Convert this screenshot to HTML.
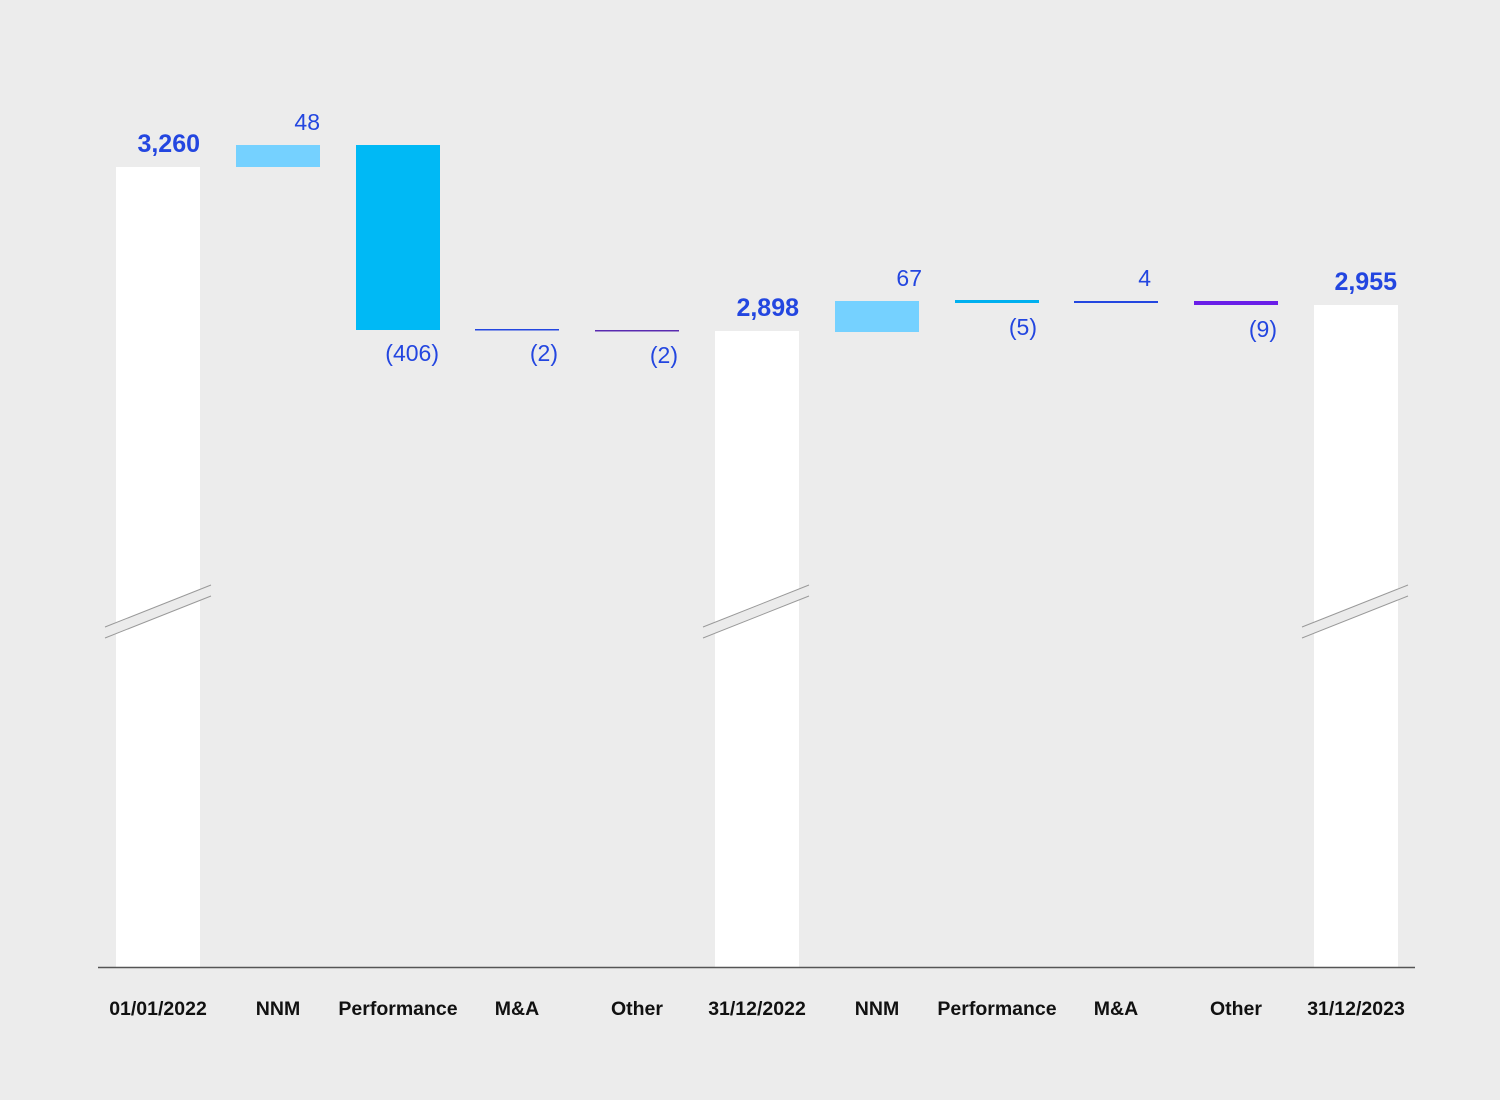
<!DOCTYPE html>
<html><head><style>body{margin:0;background:#ececec}svg{display:block}</style></head>
<body>
<svg width="1500" height="1100" viewBox="0 0 1500 1100" xmlns="http://www.w3.org/2000/svg" font-family="Liberation Sans, sans-serif">
<rect width="1500" height="1100" fill="#ececec"/>
<rect x="116" y="167" width="84" height="800" fill="#fff"/>
<rect x="715" y="331" width="84" height="636" fill="#fff"/>
<rect x="1314" y="305" width="84" height="662" fill="#fff"/>
<rect x="236" y="145" width="84" height="22" fill="#75d1ff"/>
<rect x="356" y="145" width="84" height="185" fill="#00b9f5"/>
<rect x="475" y="329" width="84" height="1.5" fill="#2346e0"/>
<rect x="595" y="330" width="84" height="1.5" fill="#5a2bb0"/>
<rect x="835" y="301" width="84" height="31" fill="#75d1ff"/>
<rect x="955" y="300" width="84" height="3" fill="#00b0ef"/>
<rect x="1074" y="301" width="84" height="2" fill="#2346e0"/>
<rect x="1194" y="301" width="84" height="4" fill="#6a1ee8"/>
<g fill="#ebebeb" stroke="#999" stroke-width="1">
<polygon points="105,627 211,585 211,596 105,638" stroke="none"/>
<line x1="105" y1="627" x2="211" y2="585"/><line x1="105" y1="638" x2="211" y2="596"/>
<polygon points="703,627 809,585 809,596 703,638" stroke="none"/>
<line x1="703" y1="627" x2="809" y2="585"/><line x1="703" y1="638" x2="809" y2="596"/>
<polygon points="1302,627 1408,585 1408,596 1302,638" stroke="none"/>
<line x1="1302" y1="627" x2="1408" y2="585"/><line x1="1302" y1="638" x2="1408" y2="596"/>
</g>
<line x1="98" y1="967.5" x2="1415" y2="967.5" stroke="#555" stroke-width="1.5"/>
<g fill="#2346e0" font-size="23" text-anchor="end">
<text x="200" y="152" font-weight="bold" font-size="25">3,260</text>
<text x="320" y="130">48</text>
<text x="439" y="361">(406)</text>
<text x="558" y="361">(2)</text>
<text x="678" y="363">(2)</text>
<text x="799" y="316" font-weight="bold" font-size="25">2,898</text>
<text x="922" y="286">67</text>
<text x="1037" y="335">(5)</text>
<text x="1151" y="286">4</text>
<text x="1277" y="337">(9)</text>
<text x="1397" y="290" font-weight="bold" font-size="25">2,955</text>
</g>
<g fill="#111" font-size="19.5" font-weight="bold" text-anchor="middle">
<text x="158" y="1015">01/01/2022</text>
<text x="278" y="1015">NNM</text>
<text x="398" y="1015">Performance</text>
<text x="517" y="1015">M&amp;A</text>
<text x="637" y="1015">Other</text>
<text x="757" y="1015">31/12/2022</text>
<text x="877" y="1015">NNM</text>
<text x="997" y="1015">Performance</text>
<text x="1116" y="1015">M&amp;A</text>
<text x="1236" y="1015">Other</text>
<text x="1356" y="1015">31/12/2023</text>
</g>
</svg>
</body></html>
